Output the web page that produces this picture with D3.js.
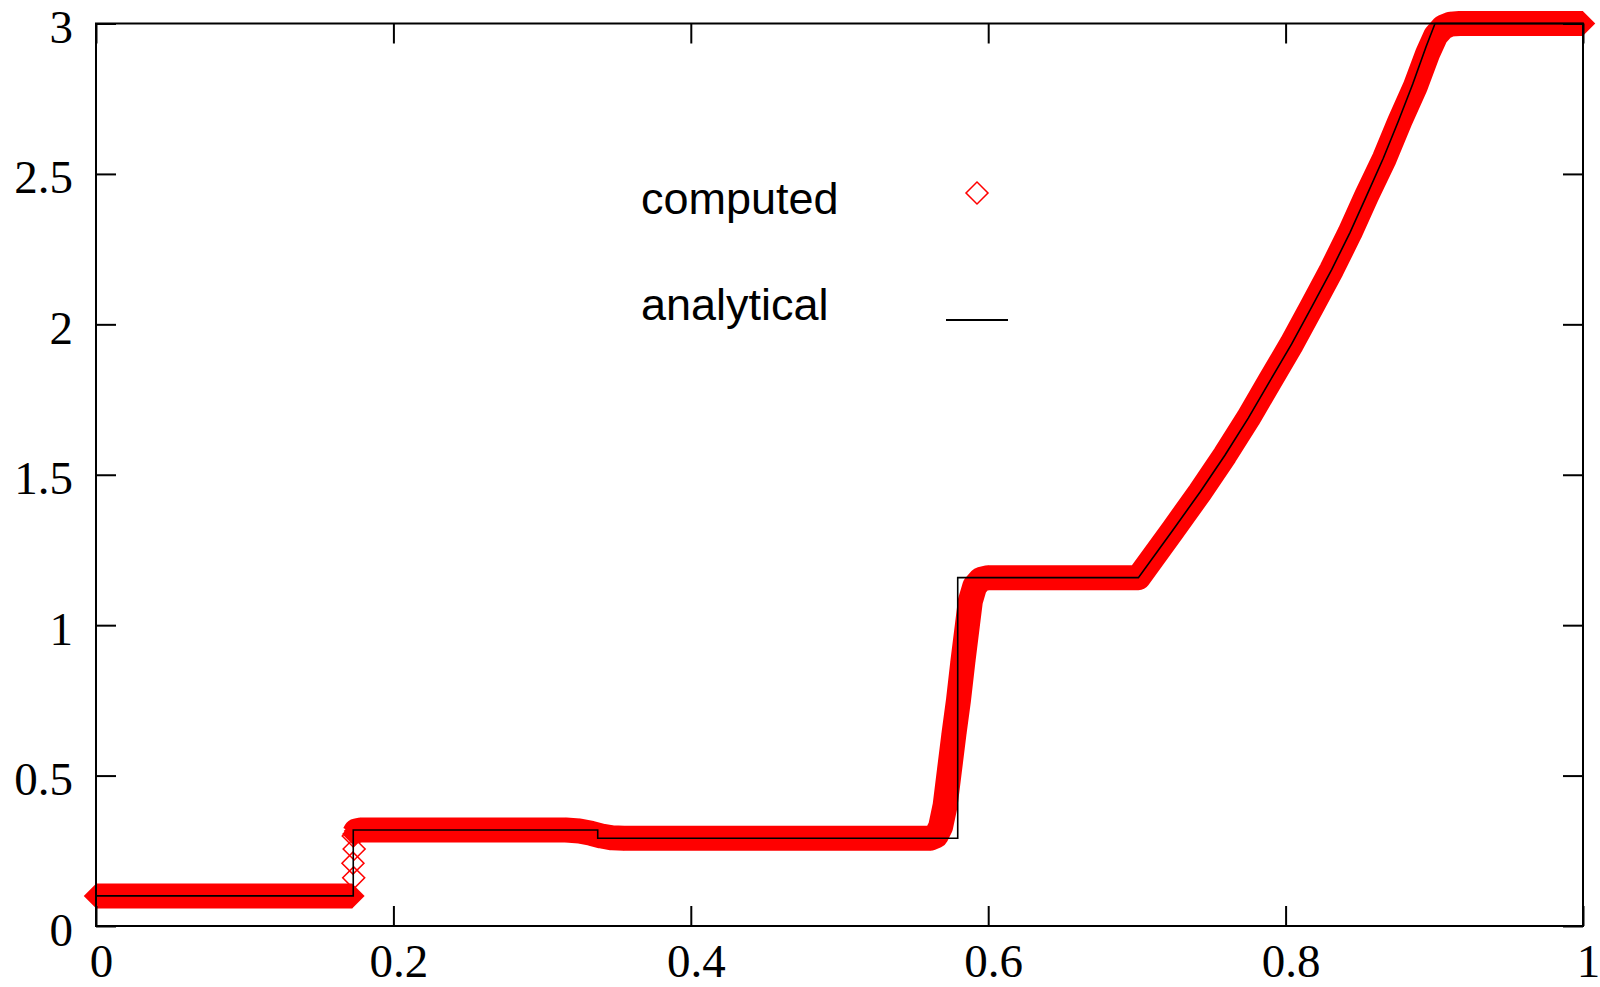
<!DOCTYPE html>
<html>
<head>
<meta charset="utf-8">
<script src="https://cdn.jsdelivr.net/npm/d3@7"></script>
<style>
  body { margin: 0; background: #fff; }
</style>
</head>
<body>
<svg id="chart"></svg>
<script>
// analytical solution
const exactX = [0, 0.173, 0.173, 0.3374, 0.3374, 0.5795, 0.5795, 0.701, 0.7245, 0.7424, 0.7592, 0.7749,
  0.7895, 0.8041, 0.8176, 0.831, 0.8433, 0.8545, 0.8657, 0.8758, 0.8855, 0.8944, 0.9005, 1]
const exactY = [0.1, 0.1, 0.319, 0.319, 0.2915, 0.2915, 1.158, 1.158, 1.318, 1.442, 1.565, 1.688,
  1.812, 1.935, 2.058, 2.182, 2.305, 2.428, 2.552, 2.675, 2.799, 2.922, 3.0, 3.0]

// computed points: left state, the few points inside the first jump, and the rest
const compLeftX = [0, 0.1724]
const compLeftY = [0.1, 0.1]
const shockX = [0.1733, 0.1728, 0.1736, 0.173]
const shockY = [0.16, 0.209, 0.256, 0.299]
const compRightX = [0.1737, 0.1748, 0.178, 0.316, 0.325, 0.333, 0.34, 0.347, 0.355, 0.561, 0.565, 0.568,
  0.571, 0.574, 0.577, 0.58, 0.583, 0.586, 0.588, 0.591, 0.595, 0.6, 0.701, 0.7245, 0.7424, 0.7592,
  0.7749, 0.7895, 0.8041, 0.8176, 0.831, 0.8433, 0.8545, 0.8665, 0.8768, 0.8872, 0.8955, 0.901,
  0.906, 0.911, 0.917, 1]
const compRightY = [0.306, 0.316, 0.319, 0.319, 0.316, 0.308, 0.299, 0.293, 0.2915, 0.2915, 0.3, 0.33,
  0.4, 0.52, 0.64, 0.75, 0.88, 1.0, 1.08, 1.13, 1.152, 1.158, 1.158, 1.318, 1.442, 1.565,
  1.688, 1.812, 1.935, 2.058, 2.182, 2.305, 2.428, 2.552, 2.675, 2.79, 2.9, 2.96,
  2.988, 2.998, 3.0, 3.0]

const xTicks = [0, 0.2, 0.4, 0.6, 0.8, 1]
const xTickLabels = ["0", "0.2", "0.4", "0.6", "0.8", "1"]
const yTicks = [0, 0.5, 1, 1.5, 2, 2.5, 3]
const yTickLabels = ["0", "0.5", "1", "1.5", "2", "2.5", "3"]
const legendLabels = ["computed", "analytical"]

const zip = (xs, ys) => xs.map((v, i) => [v, ys[i]])

const width = 1600, height = 987
const svg = d3.select("#chart").attr("width", width).attr("height", height)

const x = d3.scaleLinear().domain([0, 1]).range([96, 1583])
const y = d3.scaleLinear().domain([0, 3]).range([926, 23.5])

const line = d3.line().x(d => x(d[0])).y(d => y(d[1]))
const diamond = d3.symbol().type(d3.symbolSquare).size(242)

// computed: the dense diamonds merge into a thick red band
const bands = [zip(compLeftX, compLeftY), zip(compRightX, compRightY)]
svg.append("g")
  .selectAll("path")
  .data(bands)
  .enter()
  .append("path")
  .attr("d", line)
  .attr("fill", "none")
  .attr("stroke", "#ff0000")
  .attr("stroke-width", 25)
  .attr("stroke-linejoin", "round")

// band points are packed solid, the shock points stay open
const bandPts = bands[0].concat(bands[1])
svg.append("g")
  .selectAll("path")
  .data(bandPts)
  .enter()
  .append("path")
  .attr("d", d3.symbol().type(d3.symbolSquare).size(300))
  .attr("transform", d => `translate(${x(d[0])},${y(d[1])}) rotate(45)`)
  .attr("fill", "#ff0000")

svg.append("g")
  .selectAll("path")
  .data(zip(shockX, shockY))
  .enter()
  .append("path")
  .attr("d", diamond)
  .attr("transform", d => `translate(${x(d[0])},${y(d[1])}) rotate(45)`)
  .attr("fill", "none")
  .attr("stroke", "#ff0000")
  .attr("stroke-width", 1.5)

// analytical
svg.append("path")
  .datum(zip(exactX, exactY))
  .attr("d", line)
  .attr("fill", "none")
  .attr("stroke", "#000")
  .attr("stroke-width", 1.6)

// axes, ticks inside on all four sides
function styleAxis(g) {
  g.select(".domain").remove()
  g.selectAll("line").attr("stroke", "#000").attr("stroke-width", 2)
  g.attr("font-family", "'Liberation Serif', 'Times New Roman', serif").attr("font-size", 47)
  g.selectAll("text").attr("fill", "#000")
}

const gx = svg.append("g")
  .attr("transform", `translate(0,${y(0)})`)
  .call(d3.axisBottom(x).tickValues(xTicks).tickFormat((d, i) => xTickLabels[i]).tickSize(-20).tickSizeOuter(0))
styleAxis(gx)
gx.selectAll("text").attr("y", 51).attr("dy", null).attr("dx", 5)

const gy = svg.append("g")
  .attr("transform", `translate(${x(0)},0)`)
  .call(d3.axisLeft(y).tickValues(yTicks).tickFormat((d, i) => yTickLabels[i]).tickSize(-20).tickSizeOuter(0))
styleAxis(gy)
gy.selectAll("text").attr("x", -23).attr("y", 19).attr("dy", null)

const gt = svg.append("g")
  .attr("transform", `translate(0,${y(3)})`)
  .call(d3.axisTop(x).tickValues(xTicks).tickSize(-20).tickSizeOuter(0))
styleAxis(gt)
gt.selectAll("text").remove()

const gr = svg.append("g")
  .attr("transform", `translate(${x(1)},0)`)
  .call(d3.axisRight(y).tickValues(yTicks).tickSize(-20).tickSizeOuter(0))
styleAxis(gr)
gr.selectAll("text").remove()

svg.append("rect")
  .attr("x", x(0)).attr("y", y(3))
  .attr("width", x(1) - x(0)).attr("height", y(0) - y(3))
  .attr("fill", "none")
  .attr("stroke", "#000")
  .attr("stroke-width", 2)

// legend
const legend = svg.append("g")
  .attr("font-family", "'Liberation Sans', Arial, sans-serif")
  .attr("font-size", 45)
legend.selectAll("text")
  .data(legendLabels)
  .enter()
  .append("text")
  .attr("x", 641)
  .attr("y", (d, i) => 214 + i * 106)
  .text(d => d)
legend.append("path")
  .attr("d", diamond)
  .attr("transform", "translate(977,193) rotate(45)")
  .attr("fill", "none")
  .attr("stroke", "#ff0000")
  .attr("stroke-width", 1.5)
legend.append("line")
  .attr("x1", 946).attr("x2", 1008)
  .attr("y1", 320).attr("y2", 320)
  .attr("stroke", "#000")
  .attr("stroke-width", 2)
</script>
</body>
</html>
